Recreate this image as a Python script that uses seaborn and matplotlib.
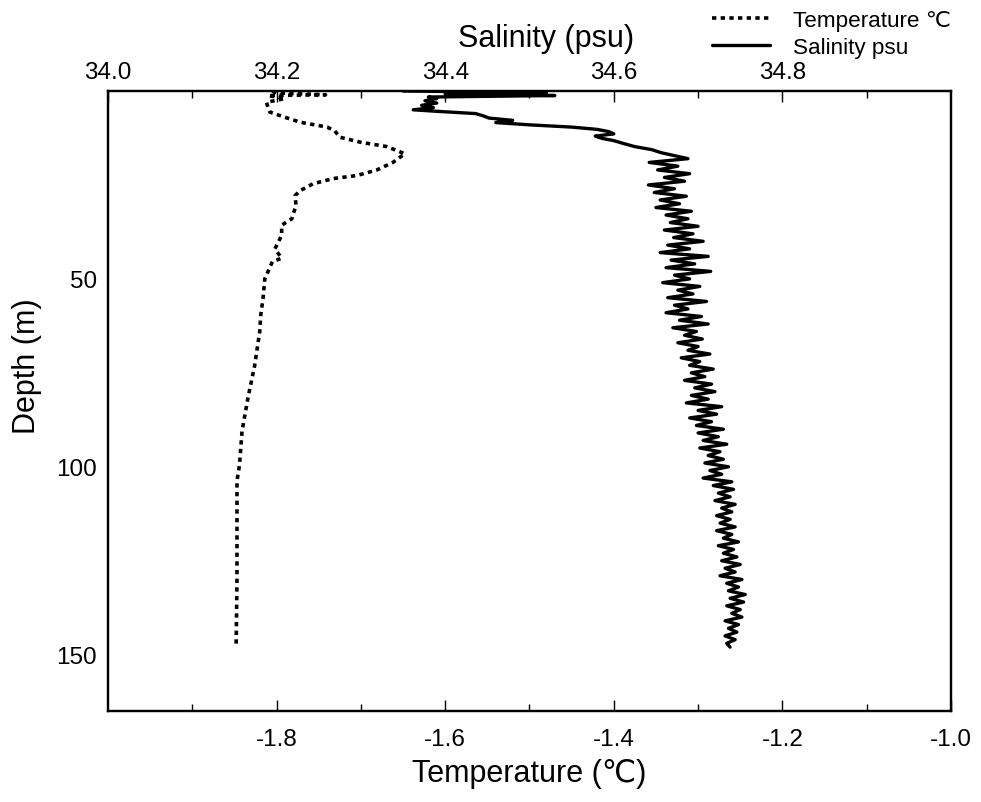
import matplotlib
matplotlib.use("Agg")
import matplotlib.pyplot as plt
from matplotlib.lines import Line2D
import numpy as np
import pandas as pd
import seaborn as sns

sns.set_style("white")
plt.rcParams['font.family'] = ['Liberation Sans', 'DejaVu Sans']
plt.rcParams['axes.unicode_minus'] = False
plt.rcParams['text.color'] = 'black'
plt.rcParams['axes.labelcolor'] = 'black'

# temperature profile (dotted)
temp_depth = [0.0, 0.5, 1.0, 1.2, 2.0, 3.0, 4.5, 5.6, 7.0, 8.3, 9.6, 10.6, 12.3,
              13.6, 14.8, 16.7, 19.0, 21.0, 22.5, 23.3, 24.7, 26.5, 27.8, 30.5,
              34.0, 35.7, 38.4, 42.0, 44.5, 45.4, 50.0, 55.0, 60.0, 64.0, 73.0,
              81.7, 90.5, 99.4, 103.8, 117.0, 130.0, 147.5]
temp_vals = [-1.805, -1.800, -1.742, -1.810, -1.790, -1.812, -1.810, -1.808,
             -1.790, -1.772, -1.740, -1.731, -1.725, -1.701, -1.669, -1.648,
             -1.662, -1.681, -1.705, -1.733, -1.757, -1.772, -1.778, -1.777,
             -1.782, -1.794, -1.794, -1.802, -1.794, -1.805, -1.814, -1.816,
             -1.819, -1.820, -1.826, -1.834, -1.841, -1.844, -1.847, -1.847,
             -1.847, -1.848]

# salinity profile (solid): upper layer
sal_depth_top = [0.0, 0.4, 0.8, 1.2, 1.6, 2.0, 2.6, 3.2, 3.8, 4.4, 5.0, 5.4,
                 6.0, 6.6, 7.2, 7.8, 8.4, 9.0, 9.6, 10.2, 10.8, 11.4, 12.0,
                 12.6, 13.2, 14.0, 14.8, 15.6, 16.4, 17.2]
sal_top = [34.350, 34.520, 34.400, 34.530, 34.380, 34.390, 34.376, 34.390,
           34.372, 34.386, 34.362, 34.390, 34.436, 34.445, 34.452, 34.480,
           34.460, 34.500, 34.550, 34.580, 34.594, 34.600, 34.578, 34.586,
           34.600, 34.612, 34.625, 34.645, 34.656, 34.672]

# salinity below 18 m, one reading per metre (18 .. 148 m)
sal_depth_low = list(range(18, 149))
sal_low = [
    34.688, 34.642, 34.676, 34.652, 34.690, 34.660, 34.684, 34.641, 34.672, 34.648, 34.686, 34.655, 34.678,
    34.650, 34.692, 34.662, 34.688, 34.667, 34.700, 34.660, 34.694, 34.671, 34.706, 34.664, 34.690, 34.655, 34.712, 34.668,
    34.696, 34.662, 34.715, 34.672, 34.690, 34.658, 34.702, 34.676, 34.694, 34.664, 34.710, 34.672, 34.688, 34.662, 34.704,
    34.678, 34.712, 34.670, 34.698, 34.684, 34.705, 34.676, 34.700, 34.688, 34.714, 34.680, 34.702, 34.690, 34.718, 34.692,
    34.708, 34.684, 34.716, 34.696, 34.720, 34.692, 34.712, 34.686, 34.728, 34.700, 34.722, 34.690, 34.716, 34.698, 34.730,
    34.700, 34.724, 34.706, 34.734, 34.702, 34.726, 34.712, 34.730, 34.708, 34.736, 34.714, 34.728, 34.706, 34.740, 34.718,
    34.742, 34.724, 34.738, 34.720, 34.744, 34.728, 34.740, 34.722, 34.738, 34.726, 34.744, 34.722, 34.740, 34.730, 34.748,
    34.724, 34.742, 34.730, 34.746, 34.728, 34.750, 34.732, 34.744, 34.726, 34.752, 34.734, 34.748, 34.736, 34.756, 34.738,
    34.754, 34.734, 34.750, 34.740, 34.752, 34.732, 34.748, 34.736, 34.746, 34.732, 34.744, 34.734, 34.738,
]

temp_df = pd.DataFrame({'depth': temp_depth, 'temp': temp_vals})
sal_df = pd.DataFrame({'depth': sal_depth_top + sal_depth_low,
                       'sal': sal_top + sal_low})

dotted = (0, (1.2, 1.2))

fig = plt.figure(figsize=(9.81, 8.03), dpi=100)
ax = fig.add_axes([0.1101, 0.1133, 0.8593, 0.7721])
ax2 = ax.twiny()

sns.lineplot(data=temp_df, x='temp', y='depth', orient='y', estimator=None,
             color='black', lw=2.6, linestyle=dotted, ax=ax)
sns.lineplot(data=sal_df, x='sal', y='depth', orient='y', estimator=None,
             color='black', lw=2.4, ax=ax2)

ax.set_xlim(-2.0, -1.0)
ax2.set_xlim(34.0, 35.0)
ax.set_ylim(165, 0)

ax.set_xticks([-1.8, -1.6, -1.4, -1.2, -1.0])
ax.set_xticks([-1.9, -1.7, -1.5, -1.3, -1.1], minor=True)
ax.set_xticklabels(['-1.8', '-1.6', '-1.4', '-1.2', '-1.0'])
ax.set_yticks([50, 100, 150])
ax.set_yticks([25, 75, 125], minor=True)
ax2.set_xticks([34.0, 34.2, 34.4, 34.6, 34.8])
ax2.set_xticks([34.1, 34.3, 34.5, 34.7, 34.9], minor=True)
ax2.set_xticklabels(['34.0', '34.2', '34.4', '34.6', '34.8'])

for a in (ax, ax2):
    for s in a.spines.values():
        s.set_color('black')
        s.set_linewidth(1.6)
    a.tick_params(which='both', direction='in', colors='black', width=1.0,
                  labelsize=17.5)
    a.tick_params(which='major', length=8)
    a.tick_params(which='minor', length=5)
ax.tick_params(axis='x', pad=12)
ax.tick_params(axis='y', pad=8)
ax2.tick_params(axis='x', pad=6)

ax.set_xlabel('Temperature (℃)', fontsize=22, labelpad=6)
ax.set_ylabel('Depth (m)', fontsize=22)
ax.yaxis.set_label_coords(-0.078, 0.558)
ax2.set_xlabel('Salinity (psu)', fontsize=22)
ax2.xaxis.set_label_coords(0.52, 1.072)

handles = [Line2D([], [], color='black', lw=2.6, linestyle=dotted),
           Line2D([], [], color='black', lw=2.4)]
fig.legend(handles, ['Temperature ℃', 'Salinity psu'], loc='upper right',
           bbox_to_anchor=(0.99, 1.012), frameon=False, fontsize=16.2,
           handlelength=2.6, handletextpad=1.0, labelspacing=0.28)

fig.savefig('out.png', dpi=100)
